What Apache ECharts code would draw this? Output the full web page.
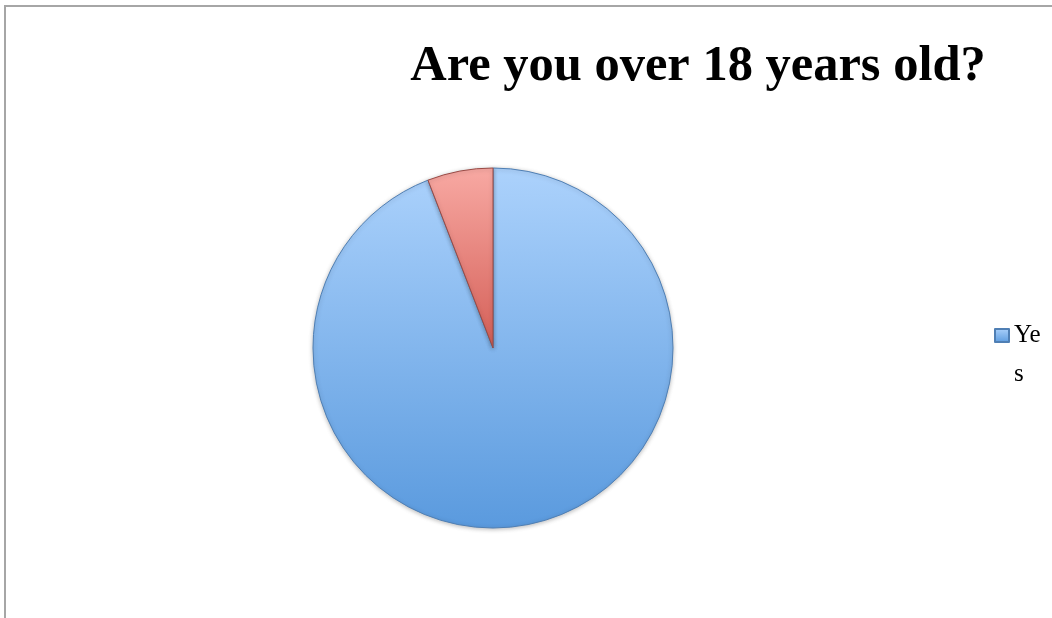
<!DOCTYPE html>
<html>
<head>
<meta charset="utf-8">
<style>
  html, body { margin: 0; padding: 0; background: #fff; }
  #chart { width: 1052px; height: 618px; }
</style>
<script src="https://cdn.jsdelivr.net/npm/echarts@6/dist/echarts.min.js"></script>
</head>
<body>
<div id="chart"></div>
<script>
// Survey answers
const categories = ['Yes', 'No'];
const counts = [16, 1];
const legendItems = ['Yes'];
const titleText = 'Are you over 18 years old?';

function vGrad(top, bottom) {
  return new echarts.graphic.LinearGradient(0, 0, 0, 1, [
    { offset: 0, color: top },
    { offset: 1, color: bottom }
  ]);
}

const sliceStyles = [
  { color: vGrad('#acd2fc', '#5a9ade'), borderColor: '#4f7fb4' },
  { color: vGrad('#f8a9a3', '#d45f57'), borderColor: '#9a4a45' }
];

const chart = echarts.init(document.getElementById('chart'), null, { renderer: 'canvas' });

chart.setOption({
  backgroundColor: '#ffffff',
  animation: false,
  title: {
    text: titleText,
    left: 693,
    textAlign: 'center',
    top: 36,
    textStyle: {
      fontFamily: 'Liberation Serif',
      fontWeight: 'bold',
      fontSize: 50.5,
      color: '#000'
    }
  },
  legend: {
    data: legendItems,
    orient: 'vertical',
    left: 989,
    top: 272,
    icon: 'rect',
    itemWidth: 14,
    itemHeight: 13,
    itemGap: 4,
    selectedMode: false,
    // the narrow legend column wraps the label; the leading blank line keeps
    // the marker level with the first line of text
    formatter: name => '\n' + name.slice(0, 2) + '\n' + name.slice(2),
    textStyle: {
      fontFamily: 'Liberation Serif',
      fontSize: 25,
      lineHeight: 39,
      color: '#000'
    }
  },
  graphic: [
    {
      type: 'polyline',
      shape: { points: [[5, 618], [5, 6], [1052, 6]] },
      style: { stroke: '#a6a6a6', lineWidth: 2, fill: null },
      silent: true
    }
  ],
  series: [
    {
      type: 'pie',
      center: [493, 348],
      radius: [0, 180],
      startAngle: 90,
      clockwise: true,
      label: { show: false },
      labelLine: { show: false },
      emphasis: { disabled: true },
      data: categories.map((c, i) => ({
        name: c,
        value: counts[i],
        itemStyle: {
          color: sliceStyles[i].color,
          borderColor: sliceStyles[i].borderColor,
          borderWidth: 1,
          shadowColor: 'rgba(0,0,0,0.25)',
          shadowBlur: 4,
          shadowOffsetY: 1
        }
      }))
    }
  ]
});
</script>
</body>
</html>
